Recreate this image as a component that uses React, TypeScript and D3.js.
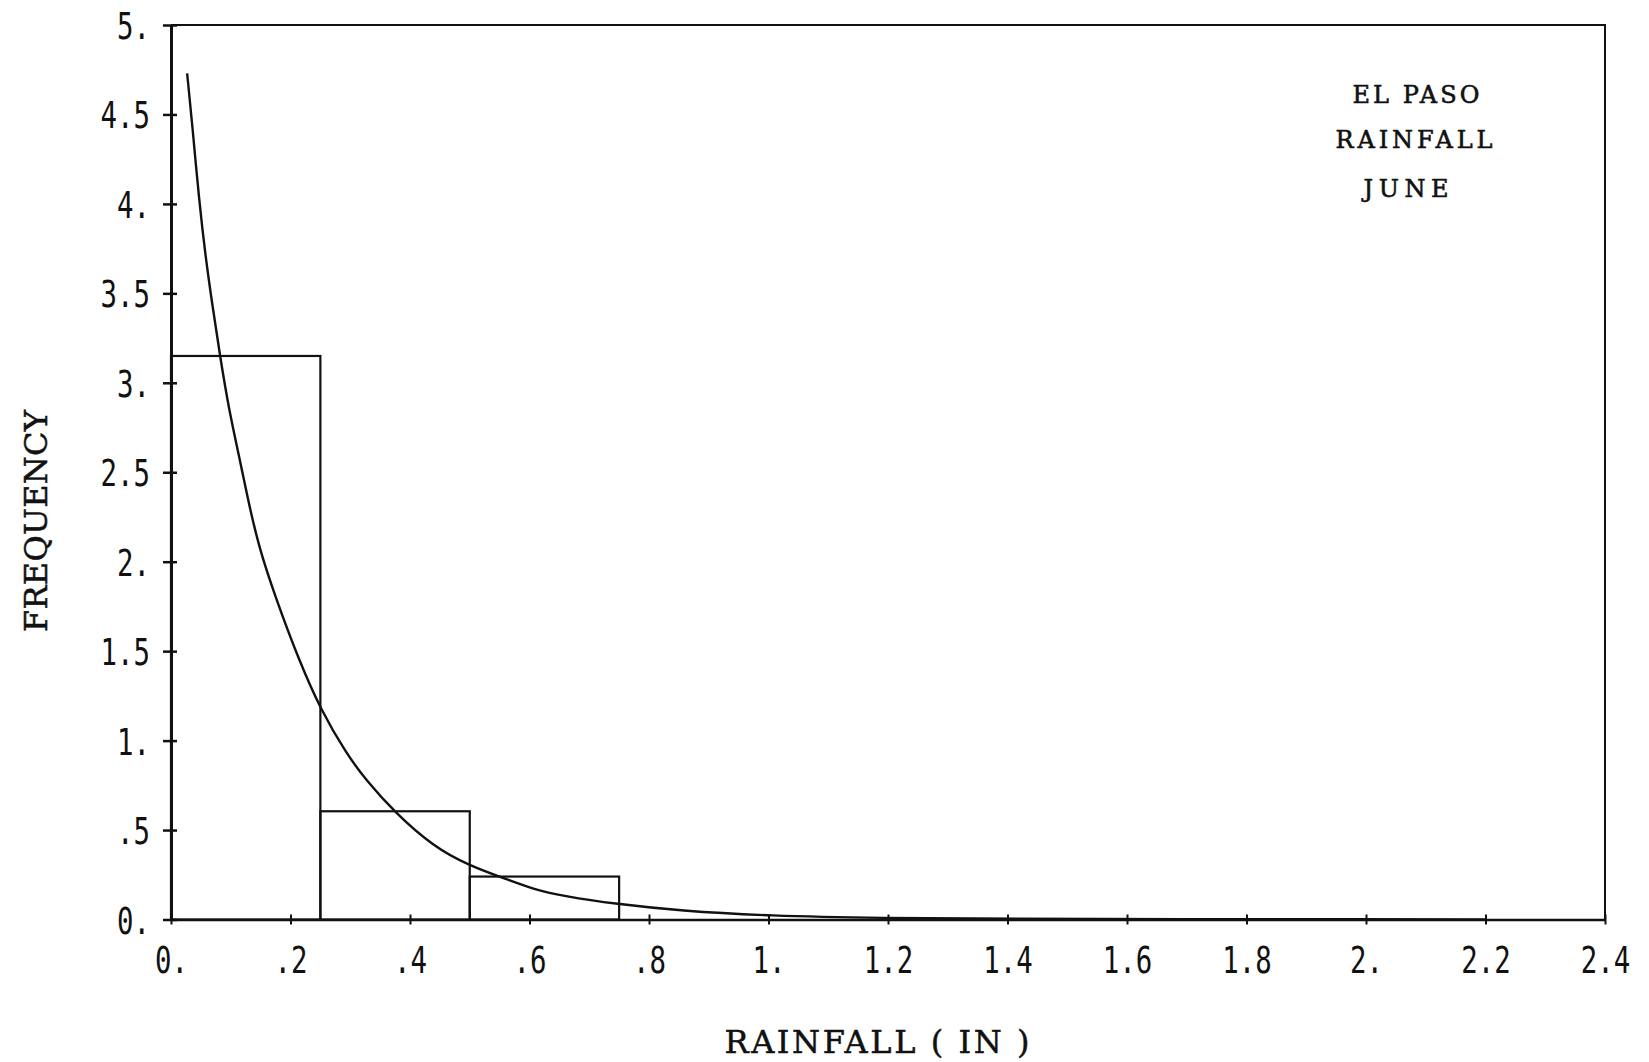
import React, { useRef, useEffect } from "react";
import * as d3 from "d3";

const W = 1649;
const H = 1062;

// histogram bins (rainfall, inches) and their frequency
const binStarts = [0, 0.25, 0.5];
const binEnds = [0.25, 0.5, 0.75];
const binFreq = [3.15, 0.605, 0.24];

// fitted density curve
const curveX = [0.027, 0.036, 0.047, 0.058, 0.069, 0.082, 0.097, 0.114, 0.128, 0.147, 0.175, 0.214, 0.251, 0.293, 0.326, 0.374, 0.438, 0.499, 0.566, 0.606, 0.658, 0.744, 0.852, 1.0, 1.19, 1.4, 1.7, 2.0, 2.2];
const curveY = [4.73, 4.43, 4.02, 3.7, 3.44, 3.15, 2.85, 2.59, 2.36, 2.08, 1.8, 1.45, 1.17, 0.93, 0.78, 0.6, 0.41, 0.3, 0.22, 0.17, 0.13, 0.087, 0.049, 0.02, 0.008, 0.004, 0.002, 0.001, 0];

const xTicks = [0, 0.2, 0.4, 0.6, 0.8, 1, 1.2, 1.4, 1.6, 1.8, 2, 2.2, 2.4];
const xTickLabels = ["0.", ".2", ".4", ".6", ".8", "1.", "1.2", "1.4", "1.6", "1.8", "2.", "2.2", "2.4"];
const yTicks = [0, 0.5, 1, 1.5, 2, 2.5, 3, 3.5, 4, 4.5, 5];
const yTickLabels = ["0.", ".5", "1.", "1.5", "2.", "2.5", "3.", "3.5", "4.", "4.5", "5."];

const titleLines = ["EL PASO", "RAINFALL", "JUNE"];

const INK = "#111";
const MONO = "'DejaVu Sans Mono', monospace";
const SERIF = "'DejaVu Serif', serif";

function App() {
  const svgRef = useRef<SVGSVGElement>(null);

  useEffect(() => {
    const svg = d3.select(svgRef.current);
    svg.selectAll("*").remove();

    const x = d3.scaleLinear().domain([0, 2.4]).range([171, 1605]);
    const y = d3.scaleLinear().domain([0, 5]).range([919.5, 25]);

    svg.append("rect").attr("width", W).attr("height", H).attr("fill", "#fff");

    // top and right frame
    svg
      .append("path")
      .attr("d", `M${x(0)},${y(5)}H${x(2.4)}V${y(0)}`)
      .attr("fill", "none")
      .attr("stroke", INK)
      .attr("stroke-width", 2);

    // histogram
    svg
      .append("g")
      .selectAll("rect")
      .data(binFreq)
      .join("rect")
      .attr("x", (d, i) => x(binStarts[i]))
      .attr("y", (d) => y(d))
      .attr("width", (d, i) => x(binEnds[i]) - x(binStarts[i]))
      .attr("height", (d) => y(0) - y(d))
      .attr("fill", "none")
      .attr("stroke", INK)
      .attr("stroke-width", 2.2);

    // density curve
    const line = d3
      .line<number>()
      .x((d, i) => x(curveX[i]))
      .y((d) => y(d))
      .curve(d3.curveBasis);

    svg
      .append("path")
      .datum(curveY)
      .attr("d", line)
      .attr("fill", "none")
      .attr("stroke", INK)
      .attr("stroke-width", 2.4);

    // y axis
    const gy = svg
      .append("g")
      .attr("transform", `translate(${x(0)},0)`)
      .call(
        d3
          .axisLeft(y)
          .tickValues(yTicks)
          .tickSize(8)
          .tickSizeOuter(0)
          .tickFormat((d, i) => yTickLabels[i])
      )
      .attr("font-family", MONO)
      .attr("font-size", 37);
    gy.select(".domain").attr("stroke", INK).attr("stroke-width", 3);
    gy.selectAll(".tick line").attr("x1", 6).attr("stroke", INK).attr("stroke-width", 2.5);
    gy.selectAll(".tick text")
      .attr("x", -21)
      .attr("dy", 13.5)
      .attr("fill", INK)
      .attr("textLength", (d, i) => yTickLabels[i].length * 16.5)
      .attr("lengthAdjust", "spacingAndGlyphs");

    // x axis
    const gx = svg
      .append("g")
      .attr("transform", `translate(0,${y(0)})`)
      .call(
        d3
          .axisBottom(x)
          .tickValues(xTicks)
          .tickSize(5)
          .tickSizeOuter(0)
          .tickFormat((d, i) => xTickLabels[i])
      )
      .attr("font-family", MONO)
      .attr("font-size", 37);
    gx.select(".domain").attr("stroke", INK).attr("stroke-width", 2.5);
    gx.selectAll(".tick line").attr("y1", -5).attr("stroke", INK).attr("stroke-width", 2);
    gx.selectAll(".tick text")
      .attr("y", 53.5)
      .attr("dy", 0)
      .attr("fill", INK)
      .attr("textLength", (d, i) => xTickLabels[i].length * 16.5)
      .attr("lengthAdjust", "spacingAndGlyphs");

    // axis titles
    svg
      .append("text")
      .attr("transform", "translate(47,521) rotate(-90)")
      .attr("text-anchor", "middle")
      .attr("font-family", SERIF)
      .attr("font-size", 32)
      .attr("fill", INK)
      .attr("stroke", INK)
      .attr("stroke-width", 0.5)
      .attr("textLength", 222)
      .attr("lengthAdjust", "spacing")
      .text("FREQUENCY");

    svg
      .append("text")
      .attr("x", 877)
      .attr("y", 1053)
      .attr("text-anchor", "middle")
      .attr("font-family", SERIF)
      .attr("font-size", 32)
      .attr("fill", INK)
      .attr("stroke", INK)
      .attr("stroke-width", 0.5)
      .attr("textLength", 305)
      .attr("lengthAdjust", "spacing")
      .text("RAINFALL ( IN )");

    // station label
    const titleBase = [103, 148, 197];
    const titleLen = [127, 157, 85];
    const titleCx = [1416, 1414, 1406];
    svg
      .append("g")
      .selectAll("text")
      .data(titleLines)
      .join("text")
      .attr("x", (d, i) => titleCx[i])
      .attr("y", (d, i) => titleBase[i])
      .attr("text-anchor", "middle")
      .attr("font-family", SERIF)
      .attr("font-size", 24)
      .attr("fill", INK)
      .attr("stroke", INK)
      .attr("stroke-width", 0.6)
      .attr("textLength", (d, i) => titleLen[i])
      .attr("lengthAdjust", "spacing")
      .text((d) => d);
  }, []);

  return (
    <svg
      ref={svgRef}
      width={W}
      height={H}
      style={{ position: "absolute", left: 0, top: 0, display: "block" }}
    ></svg>
  );
}

export default App;
